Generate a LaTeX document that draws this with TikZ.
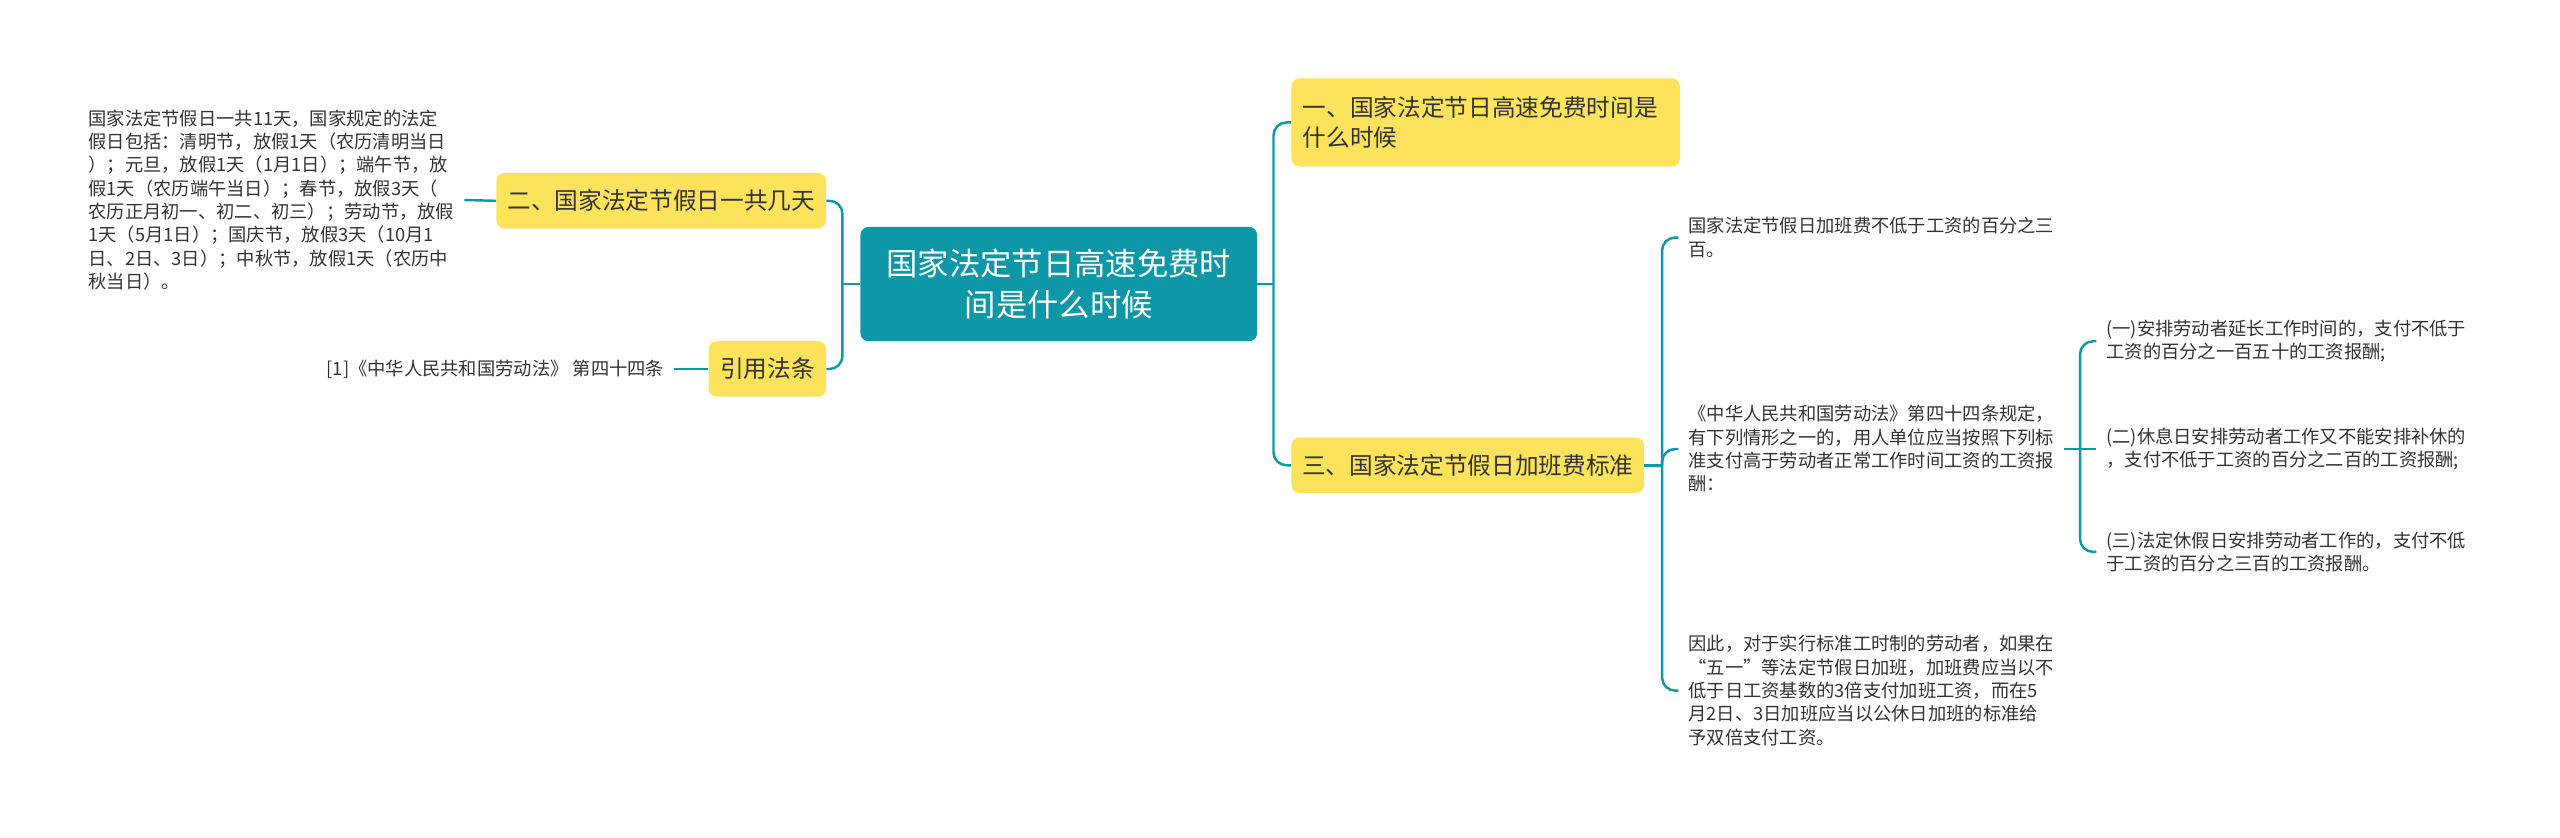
\documentclass[tikz,border=0pt]{standalone}
\usepackage{fontspec}
\setmainfont{Noto Sans CJK SC}
\definecolor{teal1}{HTML}{0E97A7}
\definecolor{ybox}{HTML}{FDE35C}
\definecolor{txt}{HTML}{333333}
\begin{document}
\begin{tikzpicture}[x=1pt,y=-1pt,
  box/.style={fill=ybox, rounded corners=5pt, text=txt, font=\fontsize{14.5}{18}\selectfont, inner sep=0pt},
  plain/.style={text=txt, font=\fontsize{11.2}{14.3}\selectfont, align=left, inner xsep=6pt, inner ysep=0pt},
  link/.style={draw=teal1, line width=1.5pt, rounded corners=8pt}
]
\useasboundingbox (0,0) rectangle (1568,513);

\node[fill=teal1, rounded corners=5pt, text=white, font=\fontsize{19.2}{25}\selectfont, align=center, minimum width=243pt, minimum height=70pt, inner sep=0pt] (c) at (648.5,174) {国家法定节日高速免费时\\间是什么时候};

\node[box, minimum width=202pt, minimum height=34pt] (b2) at (405,123) {二、国家法定节假日一共几天};
\node[box, minimum width=72pt, minimum height=34pt] (b4) at (470,226) {引用法条};
\node[box, minimum width=238pt, minimum height=54pt, text width=224pt, align=left] (b1) at (910,75) {一、国家法定节日高速免费时间是\\什么时候};
\node[box, minimum width=216pt, minimum height=34pt] (b3) at (899,285) {三、国家法定节假日加班费标准};

\node[plain, anchor=west] (tL) at (48,122.5) {国家法定节假日一共11天，国家规定的法定\\假日包括：清明节，放假1天（农历清明当日\\）；元旦，放假1天（1月1日）；端午节，放\\假1天（农历端午当日）；春节，放假3天（\\农历正月初一、初二、初三）；劳动节，放假\\1天（5月1日）；国庆节，放假3天（10月1\\日、2日、3日）；中秋节，放假1天（农历中\\秋当日）。};
\node[plain, anchor=east] (cite) at (413,226) {[1]《中华人民共和国劳动法》 第四十四条};

\node[plain, anchor=west] (t1) at (1028,145.5) {国家法定节假日加班费不低于工资的百分之三\\百。};
\node[plain, anchor=west] (t2) at (1028,275) {《中华人民共和国劳动法》第四十四条规定，\\有下列情形之一的，用人单位应当按照下列标\\准支付高于劳动者正常工作时间工资的工资报\\酬：};
\node[plain, anchor=west] (t3) at (1028,423) {因此，对于实行标准工时制的劳动者，如果在\\“五一”等法定节假日加班，加班费应当以不\\低于日工资基数的3倍支付加班工资，而在5\\月2日、3日加班应当以公休日加班的标准给\\予双倍支付工资。};

\node[plain, anchor=west] (s1) at (1284,209) {(一)安排劳动者延长工作时间的，支付不低于\\工资的百分之一百五十的工资报酬;};
\node[plain, anchor=west] (s2) at (1284,275) {(二)休息日安排劳动者工作又不能安排补休的\\，支付不低于工资的百分之二百的工资报酬;};
\node[plain, anchor=west] (s3) at (1284,338) {(三)法定休假日安排劳动者工作的，支付不低\\于工资的百分之三百的工资报酬。};

\coordinate (jL) at (516,174);
\coordinate (jR) at (780,174);
\coordinate (jT) at (1018,285);
\coordinate (jS) at (1274,275);

\draw[link] (c.west) -- (jL);
\draw[link] (jL) |- (b2.east);
\draw[link] (jL) |- (b4.east);
\draw[link] (b2.west) -- (tL.east);
\draw[link] (b4.west) -- (cite.east);

\draw[link] (c.east) -- (jR);
\draw[link] (jR) |- (b1.west);
\draw[link] (jR) |- (b3.west);

\draw[link] (b3.east) -- (jT);
\draw[link] (jT) |- (t1.west);
\draw[link] (jT) |- (t2.west);
\draw[link] (jT) |- (t3.west);

\draw[link] (t2.east) -- (s2.west);
\draw[link] (jS) |- (s1.west);
\draw[link] (jS) |- (s3.west);
\end{tikzpicture}
\end{document}
